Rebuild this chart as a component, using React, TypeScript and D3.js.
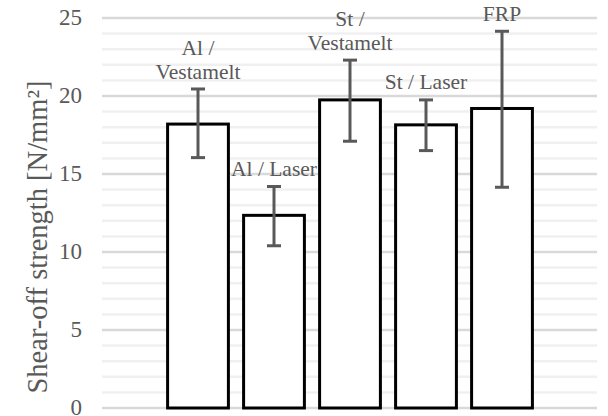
import React, { useRef, useEffect } from 'react';
import * as d3 from 'd3';

const categories = ['Al / Vestamelt', 'Al / Laser', 'St / Vestamelt', 'St / Laser', 'FRP'];
const labelLines = [['Al /', 'Vestamelt'], ['Al / Laser'], ['St /', 'Vestamelt'], ['St / Laser'], ['FRP']];
const means = [18.2, 12.35, 19.75, 18.15, 19.2];
const errLow = [16.05, 10.4, 17.1, 16.5, 14.15];
const errHigh = [20.45, 14.2, 22.3, 19.75, 24.15];
const majorTicks = [0, 5, 10, 15, 20, 25];
const minorTicks = d3.range(0, 26, 1);

const App = () => {
    const svgRef = useRef<SVGSVGElement>(null);

    useEffect(() => {
        const width = 608;
        const height = 416;
        const svg = d3.select(svgRef.current);
        svg.selectAll('*').remove();

        const font = '"Liberation Serif", "Times New Roman", "DejaVu Serif", serif';
        const gridLeft = 102;
        const gridRight = 597;

        const y = d3.scaleLinear().domain([0, 25]).range([408, 18]);
        const x = d3.scaleBand<string>()
            .domain(categories)
            .range([160, 540])
            .paddingInner(0.2)
            .paddingOuter(0.1);

        // minor grid
        svg.append('g')
            .selectAll('line')
            .data(minorTicks.filter(t => t % 5 !== 0))
            .enter()
            .append('line')
            .attr('x1', gridLeft)
            .attr('x2', gridRight)
            .attr('y1', d => y(d))
            .attr('y2', d => y(d))
            .attr('stroke', '#f0f0f0')
            .attr('stroke-width', 2.5);

        // major grid
        svg.append('g')
            .selectAll('line')
            .data(majorTicks)
            .enter()
            .append('line')
            .attr('x1', gridLeft)
            .attr('x2', gridRight)
            .attr('y1', d => y(d))
            .attr('y2', d => y(d))
            .attr('stroke', '#d9d9d9')
            .attr('stroke-width', 2.5);

        // tick labels
        svg.append('g')
            .selectAll('text')
            .data(majorTicks)
            .enter()
            .append('text')
            .attr('x', 82)
            .attr('y', d => y(d))
            .attr('dy', '0.3em')
            .attr('text-anchor', 'end')
            .style('font-family', font)
            .style('font-size', '23px')
            .attr('fill', '#595959')
            .text(d => d);

        // axis title
        svg.append('text')
            .attr('transform', 'translate(37,237) rotate(-90)')
            .attr('dy', '0.35em')
            .attr('text-anchor', 'middle')
            .style('font-family', font)
            .style('font-size', '28.5px')
            .attr('fill', '#595959')
            .text('Shear-off strength [N/mm²]');

        // bars
        svg.append('g')
            .selectAll('rect')
            .data(categories)
            .enter()
            .append('rect')
            .attr('x', d => x(d)!)
            .attr('y', (d, i) => y(means[i]))
            .attr('width', x.bandwidth())
            .attr('height', (d, i) => y(0) - y(means[i]))
            .attr('fill', 'white')
            .attr('stroke', 'black')
            .attr('stroke-width', 3);

        // error bars
        const cx = (d: string) => x(d)! + x.bandwidth() / 2;
        const err = svg.append('g')
            .attr('stroke', '#595959')
            .attr('stroke-width', 3);
        categories.forEach((c, i) => {
            err.append('line')
                .attr('x1', cx(c)).attr('x2', cx(c))
                .attr('y1', y(errLow[i])).attr('y2', y(errHigh[i]));
            [errLow[i], errHigh[i]].forEach(v => {
                err.append('line')
                    .attr('x1', cx(c) - 7).attr('x2', cx(c) + 7)
                    .attr('y1', y(v)).attr('y2', y(v));
            });
        });

        // data labels
        categories.forEach((c, i) => {
            const lines = labelLines[i];
            const top = y(errHigh[i]) - 18;
            lines.forEach((ln, j) => {
                svg.append('text')
                    .attr('x', cx(c))
                    .attr('y', top - (lines.length - 1 - j) * 24)
                    .attr('dy', '0.35em')
                    .attr('text-anchor', 'middle')
                    .style('font-family', font)
                    .style('font-size', '21.5px')
                    .attr('fill', '#595959')
                    .text(ln);
            });
        });

        svg.attr('width', width).attr('height', height);
    }, []);

    return (
        <svg ref={svgRef} width={608} height={416}
            style={{ position: 'absolute', left: 0, top: 0, background: 'white' }} />
    );
};

export default App;
